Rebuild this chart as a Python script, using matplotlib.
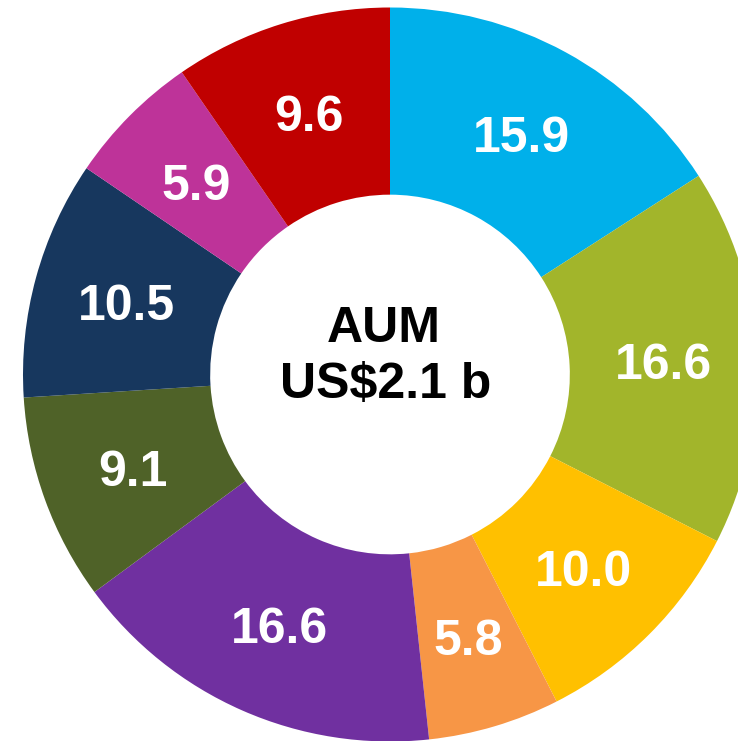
import matplotlib
matplotlib.use("Agg")
import matplotlib.pyplot as plt

values = [15.9, 16.6, 10.0, 5.8, 16.6, 9.1, 10.5, 5.9, 9.6]
colors = ["#00B0EA", "#A2B52B", "#FFC000", "#F79646", "#7030A0",
          "#4F6228", "#17375E", "#BE3399", "#C00000"]
center_lines = ["AUM", "US$2.1 b"]

plt.rcParams['font.family'] = ['Liberation Sans', 'DejaVu Sans']

W, H = 738, 741
fig = plt.figure(figsize=(W / 100, H / 100), dpi=100)
ax = fig.add_axes([0, 0, 1, 1])

R = 367.0
cx, cy = 390.0, H - 374.5

wedges, texts, autotexts = ax.pie(
    values, colors=colors, startangle=90, counterclock=False,
    radius=1.0, wedgeprops=dict(width=0.51, linewidth=0),
    autopct=lambda p: f"{p:.1f}", pctdistance=0.745,
    textprops=dict(color="white", fontsize=36, fontweight="bold"))

# place labels so the digit caps are centred on the pie's label point
for t in autotexts:
    x, y = t.get_position()
    t.set_verticalalignment('baseline')
    t.set_position((x, y - 18 / R))

ax.set_aspect('auto')
ax.set_xlim(-cx / R, (W - cx) / R)
ax.set_ylim(-cy / R, (H - cy) / R)
ax.axis('off')

ax.text(-6 / R, 32.8 / R, center_lines[0], ha='center', va='baseline',
        fontsize=36, fontweight='bold', color='black')
ax.text(-4.5 / R, -23.8 / R, center_lines[1], ha='center', va='baseline',
        fontsize=36, fontweight='bold', color='black')

fig.savefig("out.png", dpi=100)
